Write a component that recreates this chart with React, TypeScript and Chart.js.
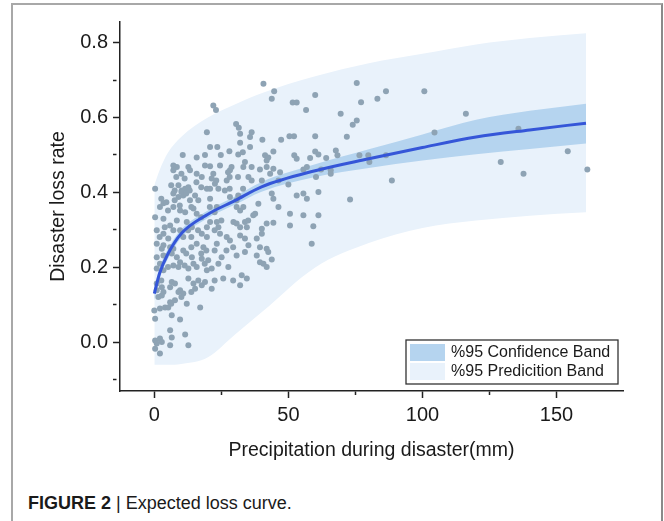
import React, { useEffect, useRef } from "react";
import { Chart, registerables } from "chart.js";

Chart.register(...registerables);

// ---- data ----
const X_MAJOR = [0, 50, 100, 150];
const Y_MAJOR = [0, 0.2, 0.4, 0.6, 0.8];

const X_TITLE = "Precipitation during disaster(mm)";
const Y_TITLE = "Disaster loss rate";
const CAPTION_BOLD = "FIGURE 2";
const CAPTION_TEXT = "Expected loss curve.";
const LEGEND_LABELS = ["%95 Confidence Band", "%95 Predicition Band"];

// fitted curve and bands sampled along precipitation
const BAND_X = [0, 2, 5, 10, 20, 30, 40, 60, 80, 100, 120, 140, 161];
const FIT_Y = [0.13, 0.185, 0.235, 0.29, 0.342, 0.378, 0.415, 0.458, 0.49, 0.52, 0.548, 0.567, 0.585];
const CONF_LO = [0.112, 0.17, 0.222, 0.279, 0.332, 0.367, 0.402, 0.441, 0.465, 0.485, 0.502, 0.516, 0.531];
const CONF_HI = [0.148, 0.2, 0.248, 0.301, 0.352, 0.389, 0.428, 0.475, 0.515, 0.555, 0.594, 0.618, 0.637];
const PRED_LO = [-0.06, -0.06, -0.06, -0.058, -0.04, 0.02, 0.08, 0.2, 0.265, 0.305, 0.325, 0.338, 0.347];
const PRED_HI = [0.42, 0.46, 0.505, 0.548, 0.6, 0.635, 0.665, 0.71, 0.745, 0.77, 0.795, 0.812, 0.825];

// observed [precipitation, loss rate]
const OBSERVATIONS: [number, number][] = [
  [40.7,0.69],[44.7,0.67],[43.8,0.65],[60,0.66],[51.6,0.64],[53.1,0.64],[56.6,0.62],[22,0.632],[23,0.62],[30.5,0.583],
  [31.5,0.573],[32,0.557],[36.3,0.561],[35.7,0.548],[19.6,0.561],[40.3,0.541],[47.3,0.541],[50.4,0.55],[52.1,0.55],[60,0.55],
  [32,0.533],[20.8,0.521],[23.5,0.521],[28,0.51],[10.6,0.5],[15.8,0.493],[18.9,0.5],[24.8,0.5],[31.3,0.501],[35.7,0.521],
  [41.3,0.499],[42.5,0.493],[41.9,0.485],[44.4,0.509],[52.2,0.499],[53.1,0.49],[60,0.509],[61.2,0.501],[7.1,0.472],[8.4,0.468],
  [7.1,0.459],[12.7,0.468],[13.3,0.459],[18.9,0.472],[20.8,0.47],[24.5,0.472],[28.2,0.459],[33.8,0.481],[33.2,0.468],[39.4,0.461],
  [41.9,0.468],[43.2,0.45],[46.9,0.454],[55.6,0.461],[56.9,0.468],[62.2,0.461],[15.8,0.45],[17.7,0.441],[22,0.45],[21.4,0.437],
  [22.6,0.423],[27,0.432],[35.1,0.441],[36.3,0.432],[40.1,0.432],[46.3,0.432],[50,0.421],[0.3,0.41],[9,0.419],[10.2,0.405],
  [11.5,0.41],[12.7,0.414],[19.6,0.41],[20.8,0.41],[23.9,0.41],[7.1,0.397],[9,0.388],[10.8,0.392],[13.3,0.379],[15.2,0.392],
  [16.4,0.379],[20.8,0.383],[28.2,0.388],[31.3,0.392],[30.7,0.379],[43.8,0.397],[44.4,0.383],[53.1,0.392],[55.6,0.397],[56.9,0.383],
  [61.2,0.401],[2.1,0.361],[3.4,0.371],[7.1,0.361],[9.6,0.352],[11.5,0.347],[14.6,0.357],[15.8,0.343],[23.3,0.361],[30.7,0.361],
  [32,0.352],[33.2,0.361],[37.6,0.343],[46.3,0.361],[55.6,0.339],[61.2,0.339],[0.3,0.334],[3.4,0.33],[8.4,0.325],[5.9,0.312],
  [7.1,0.299],[12.1,0.321],[14,0.307],[20.8,0.321],[19.6,0.307],[23.3,0.321],[23.9,0.307],[29.5,0.321],[30.7,0.317],[32,0.307],
  [33.8,0.321],[34.5,0.307],[41.9,0.317],[40.1,0.303],[50.6,0.312],[0.9,0.299],[3.4,0.29],[5.2,0.277],[9.6,0.299],[10.8,0.281],
  [17.7,0.29],[19.6,0.281],[24.5,0.29],[27,0.281],[28.2,0.272],[32,0.285],[33.8,0.277],[38.2,0.277],[40.1,0.29],[58.7,0.263],
  [0.9,0.263],[3.4,0.259],[5.9,0.254],[15.8,0.263],[18.3,0.254],[23.3,0.263],
  [2.8,0.25],[3.4,0.232],[7.1,0.25],[6.5,0.237],[10.8,0.245],[35.1,0.259],[41.9,0.25],[42.5,0.241],[38.2,0.232],[39.4,0.214],
  [40.7,0.21],[41.9,0.201],[43.8,0.221],[0.9,0.227],[2.1,0.21],[0.9,0.197],[3.4,0.192],[8.4,0.227],[9.6,0.214],[7.1,0.205],
  [9,0.201],[14,0.227],[14.6,0.21],[12.7,0.197],[15.8,0.201],[17.7,0.223],[20.1,0.219],[19.6,0.192],[21.4,0.197],[23.9,0.21],
  [25.1,0.227],[27.6,0.201],[30.7,0.232],[33.8,0.241],[32.6,0.179],[34.5,0.17],[25.7,0.17],[0.9,0.157],[2.8,0.147],[0.9,0.139],
  [3.4,0.134],[6.5,0.161],[7.7,0.157],[5.9,0.147],[9.6,0.139],[9,0.134],[10.8,0.13],[12.7,0.17],[14.6,0.157],[15.2,0.143],
  [16.4,0.165],[17.7,0.152],[21.4,0.143],[18.9,0.161],[32,0.152],[1.5,0.121],[2.8,0.125],[5.9,0.107],[7.7,0.112],[0,0.085],
  [2.1,0.09],[4,0.093],[5.2,0.093],[12.1,0.103],[17.1,0.093],[0.3,0.063],[6.5,0.072],[9.6,0.061],[5.9,0.032],[11.5,0.021],
  [0.3,0.005],[2.1,0.01],[0.9,-0.003],[2.8,0.001],[6.5,0.013],[5.9,-0.008],[12.7,-0.008],[0.3,-0.017],[2.1,-0.03],
  [75.5,0.692],[86.4,0.67],[83.2,0.65],[100.7,0.67],[77.1,0.641],[69.5,0.61],[116.2,0.61],[75.5,0.592],[74,0.581],[71.8,0.549],
  [104.5,0.56],[135.8,0.57],[154.2,0.51],[58.1,0.492],[64.1,0.492],[67.7,0.512],[68.3,0.499],[76.5,0.499],[79.8,0.499],[80.2,0.481],
  [86.4,0.499],[65.8,0.459],[65.8,0.45],[60.3,0.441],[88.6,0.432],[129.2,0.481],[137.7,0.45],[161.5,0.461],[73,0.381],[59.3,0.31],
  [33,0.507],[36.3,0.468],[44.4,0.463],[38.8,0.37],[36.9,0.339],[44.4,0.319],[50.6,0.343],[39.4,0.254],
  [28.8,0.468],[10.1,0.45],[8.2,0.441],[11.3,0.437],[15.7,0.427],[23.1,0.432],[27.5,0.454],[28.1,0.441],[31.2,0.441],[6.3,0.419],
  [7.6,0.405],[10.1,0.401],[11.9,0.397],[13.2,0.405],[17.5,0.414],[26.3,0.405],[28.1,0.41],[33.1,0.41],[2.6,0.383],[4.5,0.374],
  [5.1,0.352],[7.6,0.379],[9.5,0.365],[13.8,0.361],[17.5,0.334],[20.7,0.361],[22.5,0.347],[25,0.325],[35,0.325],[3.9,0.307],
  [2,0.281],[12.6,0.299],[13.8,0.281],[16.3,0.299],[22.5,0.299],[11.9,0.237],[13.8,0.254],[17.5,0.237],[19.4,0.245],[22.5,0.245],
  [26.9,0.245],[29.4,0.254],[11.3,0.205],[5.1,0.201],[18.8,0.21],[29.4,0.165],[2.6,0.165],[22.5,0.165],[13.8,0.134],[10.1,0.121],
  [6.3,0.103],
];

// ---- styles ----
const FONT = "'Liberation Sans', Arial, sans-serif";
const TEXT = "#1a1a1a";
const AXIS = "#222";
const C_LINE = "#3556d8";
const C_POINT = "#8ea3b4";
const C_CONF = "#b5d4ef";
const C_PRED = "#e9f2fb";

const isMajor = (v: number, list: number[]) => list.some((m) => Math.abs(m - v) < 1e-6);
const xy = (xs: number[], ys: number[]) => xs.map((x, i) => ({ x, y: ys[i] }));

const legendPlugin = {
  id: "bandLegend",
  afterDatasetsDraw(chart: any) {
    const { ctx, chartArea } = chart;
    const w = 212;
    const h = 44;
    const x0 = chartArea.right - 5 - w;
    const y0 = chartArea.bottom - 7 - h;
    ctx.save();
    ctx.fillStyle = "#fff";
    ctx.fillRect(x0, y0, w, h);
    const colors = [C_CONF, C_PRED];
    LEGEND_LABELS.forEach((label, i) => {
      const ry = y0 + 4 + i * 19;
      ctx.fillStyle = colors[i];
      ctx.fillRect(x0 + 4, ry, 35, 17);
      ctx.fillStyle = TEXT;
      ctx.font = `16px ${FONT}`;
      ctx.textBaseline = "middle";
      ctx.textAlign = "left";
      ctx.fillText(label, x0 + 45, ry + 9);
    });
    ctx.strokeStyle = "#333";
    ctx.lineWidth = 1.3;
    ctx.strokeRect(x0, y0, w, h);
    ctx.restore();
  },
};

function LossChart() {
  const ref = useRef<HTMLCanvasElement | null>(null);
  useEffect(() => {
    if (!ref.current) return;
    Chart.defaults.font.family = FONT;
    const band = (data: any, extra: any) => ({
      type: "line",
      data,
      borderColor: "transparent",
      borderWidth: 0,
      pointRadius: 0,
      cubicInterpolationMode: "monotone",
      ...extra,
    });
    const chart = new Chart(ref.current, {
      type: "scatter",
      data: {
        datasets: [
          {
            type: "line",
            data: xy(BAND_X, FIT_Y),
            borderColor: C_LINE,
            borderWidth: 3,
            pointRadius: 0,
            fill: false,
            cubicInterpolationMode: "monotone",
            order: 0,
          },
          {
            type: "scatter",
            data: OBSERVATIONS.map(([x, y]) => ({ x, y })),
            backgroundColor: C_POINT,
            borderWidth: 0,
            pointRadius: 3,
            order: 1,
          },
          band(xy(BAND_X, CONF_LO), { fill: false, order: 2 }),
          band(xy(BAND_X, CONF_HI), { fill: "-1", backgroundColor: C_CONF, order: 3 }),
          band(xy(BAND_X, PRED_LO), { fill: false, order: 4 }),
          band(xy(BAND_X, PRED_HI), { fill: "-1", backgroundColor: C_PRED, order: 5 }),
        ] as any,
      },
      options: {
        animation: false,
        responsive: false,
        devicePixelRatio: 1,
        layout: { padding: { left: 43, top: 22, right: 41, bottom: 0 } },
        plugins: { legend: { display: false }, tooltip: { enabled: false } },
        scales: {
          x: {
            type: "linear",
            min: -12.8,
            max: 174.8,
            afterFit: (s: any) => {
              s.height = 89;
            },
            border: { display: true, color: AXIS, width: 1.5 },
            grid: {
              drawOnChartArea: false,
              drawTicks: true,
              tickLength: 7,
              tickColor: AXIS,
              tickWidth: 1.5,
              tickBorderDash: (c: any) => (c.tick && isMajor(c.tick.value, X_MAJOR) ? [] : [3.5, 30]),
            },
            ticks: {
              stepSize: 25,
              autoSkip: false,
              includeBounds: false,
              maxRotation: 0,
              padding: 5,
              color: TEXT,
              font: { size: 20 },
              callback: (v: any) => (isMajor(Number(v), X_MAJOR) ? String(Math.round(Number(v))) : ""),
            },
            title: {
              display: true,
              text: X_TITLE,
              color: TEXT,
              font: { size: 19.5 },
              padding: { top: 0, bottom: 18 },
            },
          },
          y: {
            type: "linear",
            min: -0.13,
            max: 0.855,
            afterFit: (s: any) => {
              s.width = 77;
            },
            border: { display: true, color: AXIS, width: 1.5 },
            grid: {
              drawOnChartArea: false,
              drawTicks: true,
              tickLength: 7,
              tickColor: AXIS,
              tickWidth: 1.5,
              tickBorderDash: (c: any) => (c.tick && isMajor(c.tick.value, Y_MAJOR) ? [] : [3.5, 30]),
            },
            ticks: {
              stepSize: 0.1,
              autoSkip: false,
              includeBounds: false,
              padding: 5,
              color: TEXT,
              font: { size: 20 },
              callback: (v: any) => (isMajor(Number(v), Y_MAJOR) ? Number(v).toFixed(1) : ""),
            },
            title: {
              display: true,
              text: Y_TITLE,
              color: TEXT,
              font: { size: 19.5 },
              padding: { top: 4, bottom: 0 },
            },
          },
        },
      } as any,
      plugins: [legendPlugin],
    });
    return () => chart.destroy();
  }, []);
  return (
    <canvas
      ref={ref}
      width={664}
      height={480}
      style={{ position: "absolute", left: 0, top: 0, width: 664, height: 480 }}
    />
  );
}

export default function App() {
  return (
    <div
      style={{
        position: "absolute",
        left: 0,
        top: 0,
        width: 664,
        height: 521,
        overflow: "hidden",
        background: "#fff",
      }}
    >
      <div
        style={{
          position: "absolute",
          left: 11,
          top: 3,
          width: 652,
          height: 518,
          borderTop: "2px solid #a8a8a8",
          borderLeft: "2px solid #a8a8a8",
          borderRight: "2px solid #8a8a8a",
          boxSizing: "border-box",
        }}
      />
      <LossChart />
      <div
        style={{
          position: "absolute",
          left: 28,
          top: 493,
          fontFamily: FONT,
          fontSize: 18,
          lineHeight: "20px",
          color: TEXT,
          whiteSpace: "nowrap",
        }}
      >
        <b>{CAPTION_BOLD}</b> | {CAPTION_TEXT}
      </div>
    </div>
  );
}
